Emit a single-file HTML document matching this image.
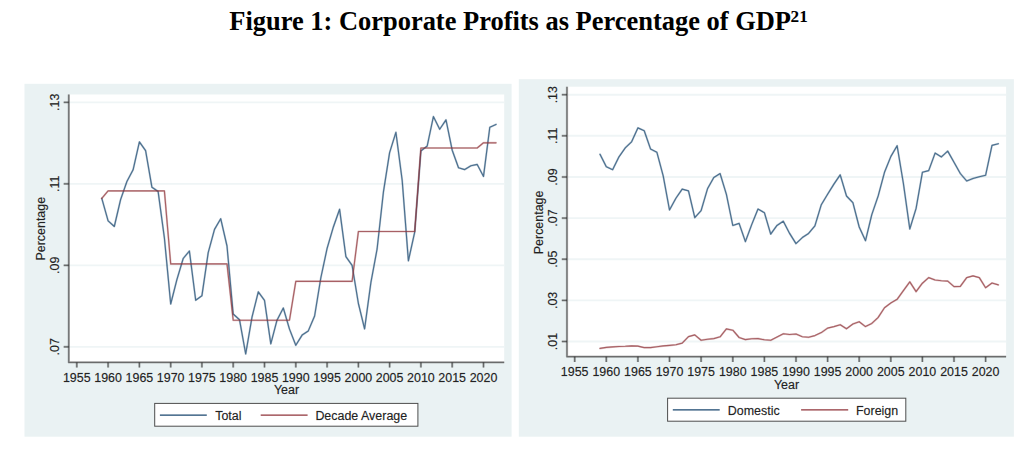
<!DOCTYPE html>
<html><head><meta charset="utf-8"><title>Figure 1</title>
<style>
html,body{margin:0;padding:0;background:#fff;}
body{width:1024px;height:450px;overflow:hidden;position:relative;font-family:"Liberation Sans",sans-serif;}
#title{position:absolute;left:0;top:0;width:1024px;text-align:center;font-family:"Liberation Serif",serif;font-weight:bold;font-size:26.45px;color:#000;line-height:1;white-space:nowrap;}
#title span.t{position:absolute;left:229.3px;top:8px;}
#title sup{margin-left:-0.4px;font-size:17.2px;vertical-align:baseline;position:relative;top:-8.4px;}
svg{position:absolute;left:0;top:0;}
svg text{font-family:"Liberation Sans",sans-serif;font-size:12.45px;fill:#222;stroke:#222;stroke-width:0.35px;stroke-opacity:0.45;}
</style></head><body>
<div id="title"><span class="t">Figure 1: Corporate Profits as Percentage of GDP<sup>21</sup></span></div>
<svg width="1024" height="450" viewBox="0 0 1024 450">

<rect x="24.5" y="83.8" width="487.1" height="352.9" fill="#eaf2f3"/>
<rect x="68.8" y="94.5" width="435.4" height="268" fill="#fff"/>
<line x1="69" x2="504.2" y1="102.35" y2="102.35" stroke="#eff5f6" stroke-width="1.9"/>
<line x1="69" x2="504.2" y1="183.85" y2="183.85" stroke="#eff5f6" stroke-width="1.9"/>
<line x1="69" x2="504.2" y1="265.35" y2="265.35" stroke="#eff5f6" stroke-width="1.9"/>
<line x1="69" x2="504.2" y1="346.85" y2="346.85" stroke="#eff5f6" stroke-width="1.9"/>
<polyline fill="none" stroke="#1a476f" stroke-opacity="0.28" stroke-width="2.0" stroke-linejoin="round" stroke-linecap="round" points="101.8,198.4 108.1,220.8 114.3,226.5 120.6,199.6 126.9,181.5 133.1,169.8 139.4,141.9 145.6,150.6 151.9,187.2 158.1,191.4 164.4,238.0 170.7,304.0 176.9,279.6 183.2,258.5 189.4,251.0 195.7,300.3 201.9,295.8 208.2,252.7 214.5,229.4 220.7,218.7 227.0,246.0 233.2,314.0 239.5,319.7 245.7,354.0 252.0,317.2 258.3,291.8 264.5,300.3 270.8,343.8 277.0,320.2 283.3,308.0 289.5,329.1 295.8,345.3 302.1,335.1 308.3,330.9 314.6,316.0 320.8,278.0 327.1,248.4 333.3,227.2 339.6,209.3 345.9,256.6 352.1,265.3 358.4,303.5 364.6,328.9 370.9,282.5 377.1,249.0 383.4,192.2 389.6,152.7 395.9,132.3 402.2,180.5 408.4,260.8 414.7,232.2 420.9,151.0 427.2,146.0 433.4,116.6 439.7,129.3 446.0,119.9 452.2,150.2 458.5,167.7 464.7,169.6 471.0,165.7 477.2,164.4 483.5,176.4 489.8,127.3 496.0,124.4"/><polyline fill="none" stroke="#1a476f" stroke-opacity="0.7" stroke-width="1.15" stroke-linejoin="round" stroke-linecap="round" points="101.8,198.4 108.1,220.8 114.3,226.5 120.6,199.6 126.9,181.5 133.1,169.8 139.4,141.9 145.6,150.6 151.9,187.2 158.1,191.4 164.4,238.0 170.7,304.0 176.9,279.6 183.2,258.5 189.4,251.0 195.7,300.3 201.9,295.8 208.2,252.7 214.5,229.4 220.7,218.7 227.0,246.0 233.2,314.0 239.5,319.7 245.7,354.0 252.0,317.2 258.3,291.8 264.5,300.3 270.8,343.8 277.0,320.2 283.3,308.0 289.5,329.1 295.8,345.3 302.1,335.1 308.3,330.9 314.6,316.0 320.8,278.0 327.1,248.4 333.3,227.2 339.6,209.3 345.9,256.6 352.1,265.3 358.4,303.5 364.6,328.9 370.9,282.5 377.1,249.0 383.4,192.2 389.6,152.7 395.9,132.3 402.2,180.5 408.4,260.8 414.7,232.2 420.9,151.0 427.2,146.0 433.4,116.6 439.7,129.3 446.0,119.9 452.2,150.2 458.5,167.7 464.7,169.6 471.0,165.7 477.2,164.4 483.5,176.4 489.8,127.3 496.0,124.4"/>
<polyline fill="none" stroke="#90353b" stroke-opacity="0.28" stroke-width="2.0" stroke-linejoin="round" stroke-linecap="round" points="101.8,198.4 108.1,190.9 114.3,190.9 120.6,190.9 126.9,190.9 133.1,190.9 139.4,190.9 145.6,190.9 151.9,190.9 158.1,190.9 164.4,190.9 170.7,263.9 176.9,263.9 183.2,263.9 189.4,263.9 195.7,263.9 201.9,263.9 208.2,263.9 214.5,263.9 220.7,263.9 227.0,263.9 233.2,320.2 239.5,320.2 245.7,320.2 252.0,320.2 258.3,320.2 264.5,320.2 270.8,320.2 277.0,320.2 283.3,320.2 289.5,320.2 295.8,281.3 302.1,281.3 308.3,281.3 314.6,281.3 320.8,281.3 327.1,281.3 333.3,281.3 339.6,281.3 345.9,281.3 352.1,281.3 358.4,231.5 364.6,231.5 370.9,231.5 377.1,231.5 383.4,231.5 389.6,231.5 395.9,231.5 402.2,231.5 408.4,231.5 414.7,231.5 420.9,148.0 427.2,148.0 433.4,148.0 439.7,148.0 446.0,148.0 452.2,148.0 458.5,148.0 464.7,148.0 471.0,148.0 477.2,148.0 483.5,142.8 489.8,142.8 496.0,142.8"/><polyline fill="none" stroke="#90353b" stroke-opacity="0.7" stroke-width="1.15" stroke-linejoin="round" stroke-linecap="round" points="101.8,198.4 108.1,190.9 114.3,190.9 120.6,190.9 126.9,190.9 133.1,190.9 139.4,190.9 145.6,190.9 151.9,190.9 158.1,190.9 164.4,190.9 170.7,263.9 176.9,263.9 183.2,263.9 189.4,263.9 195.7,263.9 201.9,263.9 208.2,263.9 214.5,263.9 220.7,263.9 227.0,263.9 233.2,320.2 239.5,320.2 245.7,320.2 252.0,320.2 258.3,320.2 264.5,320.2 270.8,320.2 277.0,320.2 283.3,320.2 289.5,320.2 295.8,281.3 302.1,281.3 308.3,281.3 314.6,281.3 320.8,281.3 327.1,281.3 333.3,281.3 339.6,281.3 345.9,281.3 352.1,281.3 358.4,231.5 364.6,231.5 370.9,231.5 377.1,231.5 383.4,231.5 389.6,231.5 395.9,231.5 402.2,231.5 408.4,231.5 414.7,231.5 420.9,148.0 427.2,148.0 433.4,148.0 439.7,148.0 446.0,148.0 452.2,148.0 458.5,148.0 464.7,148.0 471.0,148.0 477.2,148.0 483.5,142.8 489.8,142.8 496.0,142.8"/>
<path d="M68.8 94.5V362.4H504.2" fill="none" stroke="#2a2a2a" stroke-opacity="0.3" stroke-width="2.3" stroke-linejoin="round"/><path d="M68.8 94.5V362.4H504.2" fill="none" stroke="#2a2a2a" stroke-opacity="0.55" stroke-width="1.2" stroke-linejoin="round"/>
<path d="M63.7 102.35H68.8" fill="none" stroke="#2a2a2a" stroke-opacity="0.3" stroke-width="2.3" stroke-linejoin="round"/><path d="M63.7 102.35H68.8" fill="none" stroke="#2a2a2a" stroke-opacity="0.55" stroke-width="1.2" stroke-linejoin="round"/>
<text transform="translate(59.2,102.35) rotate(-90)" text-anchor="middle">.13</text>
<path d="M63.7 183.85H68.8" fill="none" stroke="#2a2a2a" stroke-opacity="0.3" stroke-width="2.3" stroke-linejoin="round"/><path d="M63.7 183.85H68.8" fill="none" stroke="#2a2a2a" stroke-opacity="0.55" stroke-width="1.2" stroke-linejoin="round"/>
<text transform="translate(59.2,183.85) rotate(-90)" text-anchor="middle">.11</text>
<path d="M63.7 265.35H68.8" fill="none" stroke="#2a2a2a" stroke-opacity="0.3" stroke-width="2.3" stroke-linejoin="round"/><path d="M63.7 265.35H68.8" fill="none" stroke="#2a2a2a" stroke-opacity="0.55" stroke-width="1.2" stroke-linejoin="round"/>
<text transform="translate(59.2,265.35) rotate(-90)" text-anchor="middle">.09</text>
<path d="M63.7 346.85H68.8" fill="none" stroke="#2a2a2a" stroke-opacity="0.3" stroke-width="2.3" stroke-linejoin="round"/><path d="M63.7 346.85H68.8" fill="none" stroke="#2a2a2a" stroke-opacity="0.55" stroke-width="1.2" stroke-linejoin="round"/>
<text transform="translate(59.2,346.85) rotate(-90)" text-anchor="middle">.07</text>
<path d="M76.8 362.4V367.5" fill="none" stroke="#2a2a2a" stroke-opacity="0.3" stroke-width="2.3" stroke-linejoin="round"/><path d="M76.8 362.4V367.5" fill="none" stroke="#2a2a2a" stroke-opacity="0.55" stroke-width="1.2" stroke-linejoin="round"/>
<text x="76.8" y="381.8" text-anchor="middle">1955</text>
<path d="M108.1 362.4V367.5" fill="none" stroke="#2a2a2a" stroke-opacity="0.3" stroke-width="2.3" stroke-linejoin="round"/><path d="M108.1 362.4V367.5" fill="none" stroke="#2a2a2a" stroke-opacity="0.55" stroke-width="1.2" stroke-linejoin="round"/>
<text x="108.1" y="381.8" text-anchor="middle">1960</text>
<path d="M139.4 362.4V367.5" fill="none" stroke="#2a2a2a" stroke-opacity="0.3" stroke-width="2.3" stroke-linejoin="round"/><path d="M139.4 362.4V367.5" fill="none" stroke="#2a2a2a" stroke-opacity="0.55" stroke-width="1.2" stroke-linejoin="round"/>
<text x="139.4" y="381.8" text-anchor="middle">1965</text>
<path d="M170.7 362.4V367.5" fill="none" stroke="#2a2a2a" stroke-opacity="0.3" stroke-width="2.3" stroke-linejoin="round"/><path d="M170.7 362.4V367.5" fill="none" stroke="#2a2a2a" stroke-opacity="0.55" stroke-width="1.2" stroke-linejoin="round"/>
<text x="170.7" y="381.8" text-anchor="middle">1970</text>
<path d="M201.9 362.4V367.5" fill="none" stroke="#2a2a2a" stroke-opacity="0.3" stroke-width="2.3" stroke-linejoin="round"/><path d="M201.9 362.4V367.5" fill="none" stroke="#2a2a2a" stroke-opacity="0.55" stroke-width="1.2" stroke-linejoin="round"/>
<text x="201.9" y="381.8" text-anchor="middle">1975</text>
<path d="M233.2 362.4V367.5" fill="none" stroke="#2a2a2a" stroke-opacity="0.3" stroke-width="2.3" stroke-linejoin="round"/><path d="M233.2 362.4V367.5" fill="none" stroke="#2a2a2a" stroke-opacity="0.55" stroke-width="1.2" stroke-linejoin="round"/>
<text x="233.2" y="381.8" text-anchor="middle">1980</text>
<path d="M264.5 362.4V367.5" fill="none" stroke="#2a2a2a" stroke-opacity="0.3" stroke-width="2.3" stroke-linejoin="round"/><path d="M264.5 362.4V367.5" fill="none" stroke="#2a2a2a" stroke-opacity="0.55" stroke-width="1.2" stroke-linejoin="round"/>
<text x="264.5" y="381.8" text-anchor="middle">1985</text>
<path d="M295.8 362.4V367.5" fill="none" stroke="#2a2a2a" stroke-opacity="0.3" stroke-width="2.3" stroke-linejoin="round"/><path d="M295.8 362.4V367.5" fill="none" stroke="#2a2a2a" stroke-opacity="0.55" stroke-width="1.2" stroke-linejoin="round"/>
<text x="295.8" y="381.8" text-anchor="middle">1990</text>
<path d="M327.1 362.4V367.5" fill="none" stroke="#2a2a2a" stroke-opacity="0.3" stroke-width="2.3" stroke-linejoin="round"/><path d="M327.1 362.4V367.5" fill="none" stroke="#2a2a2a" stroke-opacity="0.55" stroke-width="1.2" stroke-linejoin="round"/>
<text x="327.1" y="381.8" text-anchor="middle">1995</text>
<path d="M358.4 362.4V367.5" fill="none" stroke="#2a2a2a" stroke-opacity="0.3" stroke-width="2.3" stroke-linejoin="round"/><path d="M358.4 362.4V367.5" fill="none" stroke="#2a2a2a" stroke-opacity="0.55" stroke-width="1.2" stroke-linejoin="round"/>
<text x="358.4" y="381.8" text-anchor="middle">2000</text>
<path d="M389.6 362.4V367.5" fill="none" stroke="#2a2a2a" stroke-opacity="0.3" stroke-width="2.3" stroke-linejoin="round"/><path d="M389.6 362.4V367.5" fill="none" stroke="#2a2a2a" stroke-opacity="0.55" stroke-width="1.2" stroke-linejoin="round"/>
<text x="389.6" y="381.8" text-anchor="middle">2005</text>
<path d="M420.9 362.4V367.5" fill="none" stroke="#2a2a2a" stroke-opacity="0.3" stroke-width="2.3" stroke-linejoin="round"/><path d="M420.9 362.4V367.5" fill="none" stroke="#2a2a2a" stroke-opacity="0.55" stroke-width="1.2" stroke-linejoin="round"/>
<text x="420.9" y="381.8" text-anchor="middle">2010</text>
<path d="M452.2 362.4V367.5" fill="none" stroke="#2a2a2a" stroke-opacity="0.3" stroke-width="2.3" stroke-linejoin="round"/><path d="M452.2 362.4V367.5" fill="none" stroke="#2a2a2a" stroke-opacity="0.55" stroke-width="1.2" stroke-linejoin="round"/>
<text x="452.2" y="381.8" text-anchor="middle">2015</text>
<path d="M483.5 362.4V367.5" fill="none" stroke="#2a2a2a" stroke-opacity="0.3" stroke-width="2.3" stroke-linejoin="round"/><path d="M483.5 362.4V367.5" fill="none" stroke="#2a2a2a" stroke-opacity="0.55" stroke-width="1.2" stroke-linejoin="round"/>
<text x="483.5" y="381.8" text-anchor="middle">2020</text>
<text transform="translate(44.7,228.7) rotate(-90)" text-anchor="middle">Percentage</text>
<text x="286.5" y="394.2" text-anchor="middle">Year</text>
<rect x="154.7" y="403.4" width="263.2" height="22.8" fill="#fff" stroke="#4d4d4d" stroke-width="1"/>
<line x1="159.9" x2="206.8" y1="415.2" y2="415.2" stroke="#1a476f" stroke-width="1.2"/>
<text x="215.2" y="419.8">Total</text>
<line x1="260.7" x2="307.6" y1="415.2" y2="415.2" stroke="#90353b" stroke-width="1.2"/>
<text x="315.4" y="419.8">Decade Average</text>
<rect x="518.8" y="79.2" width="495.1" height="357.5" fill="#eaf2f3"/>
<rect x="567.0" y="86.7" width="439.1" height="270" fill="#fff"/>
<line x1="567.7" x2="1006.1" y1="94.7" y2="94.7" stroke="#eff5f6" stroke-width="1.9"/>
<line x1="567.7" x2="1006.1" y1="135.8" y2="135.8" stroke="#eff5f6" stroke-width="1.9"/>
<line x1="567.7" x2="1006.1" y1="177.0" y2="177.0" stroke="#eff5f6" stroke-width="1.9"/>
<line x1="567.7" x2="1006.1" y1="218.1" y2="218.1" stroke="#eff5f6" stroke-width="1.9"/>
<line x1="567.7" x2="1006.1" y1="259.2" y2="259.2" stroke="#eff5f6" stroke-width="1.9"/>
<line x1="567.7" x2="1006.1" y1="300.4" y2="300.4" stroke="#eff5f6" stroke-width="1.9"/>
<line x1="567.7" x2="1006.1" y1="341.5" y2="341.5" stroke="#eff5f6" stroke-width="1.9"/>
<polyline fill="none" stroke="#1a476f" stroke-opacity="0.28" stroke-width="2.0" stroke-linejoin="round" stroke-linecap="round" points="600.0,154.3 606.3,166.7 612.6,169.7 619.0,156.8 625.3,147.8 631.6,141.8 637.9,127.9 644.2,130.7 650.6,149.1 656.9,152.3 663.2,175.9 669.5,210.0 675.9,198.3 682.2,189.1 688.5,190.9 694.8,217.7 701.1,210.6 707.5,188.8 713.8,177.5 720.1,173.6 726.4,194.4 732.8,225.5 739.1,223.4 745.4,241.6 751.7,224.6 758.0,209.0 764.4,212.7 770.7,234.1 777.0,225.4 783.3,221.2 789.6,233.4 796.0,243.6 802.3,237.6 808.6,233.4 814.9,225.9 821.3,204.7 827.6,194.3 833.9,184.1 840.2,174.9 846.5,196.0 852.9,202.7 859.2,227.0 865.5,240.7 871.8,214.6 878.2,195.9 884.5,172.3 890.8,156.6 897.1,145.7 903.4,183.5 909.8,229.0 916.1,208.4 922.4,172.3 928.7,170.6 935.1,153.1 941.4,156.9 947.7,151.1 954.0,162.3 960.3,173.5 966.7,181.0 973.0,178.5 979.3,176.8 985.6,175.3 992.0,145.4 998.3,143.7"/><polyline fill="none" stroke="#1a476f" stroke-opacity="0.7" stroke-width="1.15" stroke-linejoin="round" stroke-linecap="round" points="600.0,154.3 606.3,166.7 612.6,169.7 619.0,156.8 625.3,147.8 631.6,141.8 637.9,127.9 644.2,130.7 650.6,149.1 656.9,152.3 663.2,175.9 669.5,210.0 675.9,198.3 682.2,189.1 688.5,190.9 694.8,217.7 701.1,210.6 707.5,188.8 713.8,177.5 720.1,173.6 726.4,194.4 732.8,225.5 739.1,223.4 745.4,241.6 751.7,224.6 758.0,209.0 764.4,212.7 770.7,234.1 777.0,225.4 783.3,221.2 789.6,233.4 796.0,243.6 802.3,237.6 808.6,233.4 814.9,225.9 821.3,204.7 827.6,194.3 833.9,184.1 840.2,174.9 846.5,196.0 852.9,202.7 859.2,227.0 865.5,240.7 871.8,214.6 878.2,195.9 884.5,172.3 890.8,156.6 897.1,145.7 903.4,183.5 909.8,229.0 916.1,208.4 922.4,172.3 928.7,170.6 935.1,153.1 941.4,156.9 947.7,151.1 954.0,162.3 960.3,173.5 966.7,181.0 973.0,178.5 979.3,176.8 985.6,175.3 992.0,145.4 998.3,143.7"/>
<polyline fill="none" stroke="#90353b" stroke-opacity="0.28" stroke-width="2.0" stroke-linejoin="round" stroke-linecap="round" points="600.0,348.4 606.3,347.4 612.6,346.9 619.0,346.5 625.3,346.3 631.6,345.9 637.9,346.1 644.2,347.6 650.6,347.6 656.9,346.7 663.2,345.9 669.5,345.4 675.9,344.8 682.2,343.1 688.5,336.6 694.8,334.9 701.1,340.3 707.5,339.2 713.8,338.6 720.1,336.8 726.4,328.9 732.8,330.2 739.1,337.5 745.4,339.6 751.7,338.8 758.0,338.6 764.4,339.8 770.7,340.3 777.0,337.1 783.3,333.8 789.6,334.5 796.0,334.0 802.3,336.7 808.6,337.3 814.9,335.6 821.3,332.6 827.6,328.1 833.9,326.6 840.2,324.7 846.5,328.8 852.9,324.0 859.2,321.7 865.5,326.6 871.8,323.4 878.2,317.4 884.5,307.7 890.8,303.0 897.1,299.3 903.4,290.7 909.8,281.9 916.1,291.6 922.4,283.2 928.7,277.6 935.1,280.0 941.4,280.8 947.7,281.1 954.0,286.6 960.3,286.4 966.7,277.6 973.0,275.9 979.3,277.6 985.6,287.7 992.0,283.0 998.3,284.9"/><polyline fill="none" stroke="#90353b" stroke-opacity="0.7" stroke-width="1.15" stroke-linejoin="round" stroke-linecap="round" points="600.0,348.4 606.3,347.4 612.6,346.9 619.0,346.5 625.3,346.3 631.6,345.9 637.9,346.1 644.2,347.6 650.6,347.6 656.9,346.7 663.2,345.9 669.5,345.4 675.9,344.8 682.2,343.1 688.5,336.6 694.8,334.9 701.1,340.3 707.5,339.2 713.8,338.6 720.1,336.8 726.4,328.9 732.8,330.2 739.1,337.5 745.4,339.6 751.7,338.8 758.0,338.6 764.4,339.8 770.7,340.3 777.0,337.1 783.3,333.8 789.6,334.5 796.0,334.0 802.3,336.7 808.6,337.3 814.9,335.6 821.3,332.6 827.6,328.1 833.9,326.6 840.2,324.7 846.5,328.8 852.9,324.0 859.2,321.7 865.5,326.6 871.8,323.4 878.2,317.4 884.5,307.7 890.8,303.0 897.1,299.3 903.4,290.7 909.8,281.9 916.1,291.6 922.4,283.2 928.7,277.6 935.1,280.0 941.4,280.8 947.7,281.1 954.0,286.6 960.3,286.4 966.7,277.6 973.0,275.9 979.3,277.6 985.6,287.7 992.0,283.0 998.3,284.9"/>
<path d="M567.0 86.7V356.7H1006.1" fill="none" stroke="#2a2a2a" stroke-opacity="0.3" stroke-width="2.3" stroke-linejoin="round"/><path d="M567.0 86.7V356.7H1006.1" fill="none" stroke="#2a2a2a" stroke-opacity="0.55" stroke-width="1.2" stroke-linejoin="round"/>
<path d="M561.8 94.7H567.0" fill="none" stroke="#2a2a2a" stroke-opacity="0.3" stroke-width="2.3" stroke-linejoin="round"/><path d="M561.8 94.7H567.0" fill="none" stroke="#2a2a2a" stroke-opacity="0.55" stroke-width="1.2" stroke-linejoin="round"/>
<text transform="translate(557,94.7) rotate(-90)" text-anchor="middle">.13</text>
<path d="M561.8 135.8H567.0" fill="none" stroke="#2a2a2a" stroke-opacity="0.3" stroke-width="2.3" stroke-linejoin="round"/><path d="M561.8 135.8H567.0" fill="none" stroke="#2a2a2a" stroke-opacity="0.55" stroke-width="1.2" stroke-linejoin="round"/>
<text transform="translate(557,135.8) rotate(-90)" text-anchor="middle">.11</text>
<path d="M561.8 177.0H567.0" fill="none" stroke="#2a2a2a" stroke-opacity="0.3" stroke-width="2.3" stroke-linejoin="round"/><path d="M561.8 177.0H567.0" fill="none" stroke="#2a2a2a" stroke-opacity="0.55" stroke-width="1.2" stroke-linejoin="round"/>
<text transform="translate(557,177.0) rotate(-90)" text-anchor="middle">.09</text>
<path d="M561.8 218.1H567.0" fill="none" stroke="#2a2a2a" stroke-opacity="0.3" stroke-width="2.3" stroke-linejoin="round"/><path d="M561.8 218.1H567.0" fill="none" stroke="#2a2a2a" stroke-opacity="0.55" stroke-width="1.2" stroke-linejoin="round"/>
<text transform="translate(557,218.1) rotate(-90)" text-anchor="middle">.07</text>
<path d="M561.8 259.2H567.0" fill="none" stroke="#2a2a2a" stroke-opacity="0.3" stroke-width="2.3" stroke-linejoin="round"/><path d="M561.8 259.2H567.0" fill="none" stroke="#2a2a2a" stroke-opacity="0.55" stroke-width="1.2" stroke-linejoin="round"/>
<text transform="translate(557,259.2) rotate(-90)" text-anchor="middle">.05</text>
<path d="M561.8 300.4H567.0" fill="none" stroke="#2a2a2a" stroke-opacity="0.3" stroke-width="2.3" stroke-linejoin="round"/><path d="M561.8 300.4H567.0" fill="none" stroke="#2a2a2a" stroke-opacity="0.55" stroke-width="1.2" stroke-linejoin="round"/>
<text transform="translate(557,300.4) rotate(-90)" text-anchor="middle">.03</text>
<path d="M561.8 341.5H567.0" fill="none" stroke="#2a2a2a" stroke-opacity="0.3" stroke-width="2.3" stroke-linejoin="round"/><path d="M561.8 341.5H567.0" fill="none" stroke="#2a2a2a" stroke-opacity="0.55" stroke-width="1.2" stroke-linejoin="round"/>
<text transform="translate(557,341.5) rotate(-90)" text-anchor="middle">.01</text>
<path d="M574.7 356.7V362" fill="none" stroke="#2a2a2a" stroke-opacity="0.3" stroke-width="2.3" stroke-linejoin="round"/><path d="M574.7 356.7V362" fill="none" stroke="#2a2a2a" stroke-opacity="0.55" stroke-width="1.2" stroke-linejoin="round"/>
<text x="574.7" y="376.2" text-anchor="middle">1955</text>
<path d="M606.3 356.7V362" fill="none" stroke="#2a2a2a" stroke-opacity="0.3" stroke-width="2.3" stroke-linejoin="round"/><path d="M606.3 356.7V362" fill="none" stroke="#2a2a2a" stroke-opacity="0.55" stroke-width="1.2" stroke-linejoin="round"/>
<text x="606.3" y="376.2" text-anchor="middle">1960</text>
<path d="M637.9 356.7V362" fill="none" stroke="#2a2a2a" stroke-opacity="0.3" stroke-width="2.3" stroke-linejoin="round"/><path d="M637.9 356.7V362" fill="none" stroke="#2a2a2a" stroke-opacity="0.55" stroke-width="1.2" stroke-linejoin="round"/>
<text x="637.9" y="376.2" text-anchor="middle">1965</text>
<path d="M669.5 356.7V362" fill="none" stroke="#2a2a2a" stroke-opacity="0.3" stroke-width="2.3" stroke-linejoin="round"/><path d="M669.5 356.7V362" fill="none" stroke="#2a2a2a" stroke-opacity="0.55" stroke-width="1.2" stroke-linejoin="round"/>
<text x="669.5" y="376.2" text-anchor="middle">1970</text>
<path d="M701.1 356.7V362" fill="none" stroke="#2a2a2a" stroke-opacity="0.3" stroke-width="2.3" stroke-linejoin="round"/><path d="M701.1 356.7V362" fill="none" stroke="#2a2a2a" stroke-opacity="0.55" stroke-width="1.2" stroke-linejoin="round"/>
<text x="701.1" y="376.2" text-anchor="middle">1975</text>
<path d="M732.8 356.7V362" fill="none" stroke="#2a2a2a" stroke-opacity="0.3" stroke-width="2.3" stroke-linejoin="round"/><path d="M732.8 356.7V362" fill="none" stroke="#2a2a2a" stroke-opacity="0.55" stroke-width="1.2" stroke-linejoin="round"/>
<text x="732.8" y="376.2" text-anchor="middle">1980</text>
<path d="M764.4 356.7V362" fill="none" stroke="#2a2a2a" stroke-opacity="0.3" stroke-width="2.3" stroke-linejoin="round"/><path d="M764.4 356.7V362" fill="none" stroke="#2a2a2a" stroke-opacity="0.55" stroke-width="1.2" stroke-linejoin="round"/>
<text x="764.4" y="376.2" text-anchor="middle">1985</text>
<path d="M796.0 356.7V362" fill="none" stroke="#2a2a2a" stroke-opacity="0.3" stroke-width="2.3" stroke-linejoin="round"/><path d="M796.0 356.7V362" fill="none" stroke="#2a2a2a" stroke-opacity="0.55" stroke-width="1.2" stroke-linejoin="round"/>
<text x="796.0" y="376.2" text-anchor="middle">1990</text>
<path d="M827.6 356.7V362" fill="none" stroke="#2a2a2a" stroke-opacity="0.3" stroke-width="2.3" stroke-linejoin="round"/><path d="M827.6 356.7V362" fill="none" stroke="#2a2a2a" stroke-opacity="0.55" stroke-width="1.2" stroke-linejoin="round"/>
<text x="827.6" y="376.2" text-anchor="middle">1995</text>
<path d="M859.2 356.7V362" fill="none" stroke="#2a2a2a" stroke-opacity="0.3" stroke-width="2.3" stroke-linejoin="round"/><path d="M859.2 356.7V362" fill="none" stroke="#2a2a2a" stroke-opacity="0.55" stroke-width="1.2" stroke-linejoin="round"/>
<text x="859.2" y="376.2" text-anchor="middle">2000</text>
<path d="M890.8 356.7V362" fill="none" stroke="#2a2a2a" stroke-opacity="0.3" stroke-width="2.3" stroke-linejoin="round"/><path d="M890.8 356.7V362" fill="none" stroke="#2a2a2a" stroke-opacity="0.55" stroke-width="1.2" stroke-linejoin="round"/>
<text x="890.8" y="376.2" text-anchor="middle">2005</text>
<path d="M922.4 356.7V362" fill="none" stroke="#2a2a2a" stroke-opacity="0.3" stroke-width="2.3" stroke-linejoin="round"/><path d="M922.4 356.7V362" fill="none" stroke="#2a2a2a" stroke-opacity="0.55" stroke-width="1.2" stroke-linejoin="round"/>
<text x="922.4" y="376.2" text-anchor="middle">2010</text>
<path d="M954.0 356.7V362" fill="none" stroke="#2a2a2a" stroke-opacity="0.3" stroke-width="2.3" stroke-linejoin="round"/><path d="M954.0 356.7V362" fill="none" stroke="#2a2a2a" stroke-opacity="0.55" stroke-width="1.2" stroke-linejoin="round"/>
<text x="954.0" y="376.2" text-anchor="middle">2015</text>
<path d="M985.6 356.7V362" fill="none" stroke="#2a2a2a" stroke-opacity="0.3" stroke-width="2.3" stroke-linejoin="round"/><path d="M985.6 356.7V362" fill="none" stroke="#2a2a2a" stroke-opacity="0.55" stroke-width="1.2" stroke-linejoin="round"/>
<text x="985.6" y="376.2" text-anchor="middle">2020</text>
<text transform="translate(542.7,222.4) rotate(-90)" text-anchor="middle">Percentage</text>
<text x="786.5" y="389" text-anchor="middle">Year</text>
<rect x="667.6" y="398.2" width="238.2" height="23" fill="#fff" stroke="#4d4d4d" stroke-width="1"/>
<line x1="672.8" x2="719.7" y1="409.8" y2="409.8" stroke="#1a476f" stroke-width="1.2"/>
<text x="727.8" y="414.9">Domestic</text>
<line x1="801.1" x2="848.2" y1="409.8" y2="409.8" stroke="#90353b" stroke-width="1.2"/>
<text x="856" y="414.9">Foreign</text>
</svg></body></html>
